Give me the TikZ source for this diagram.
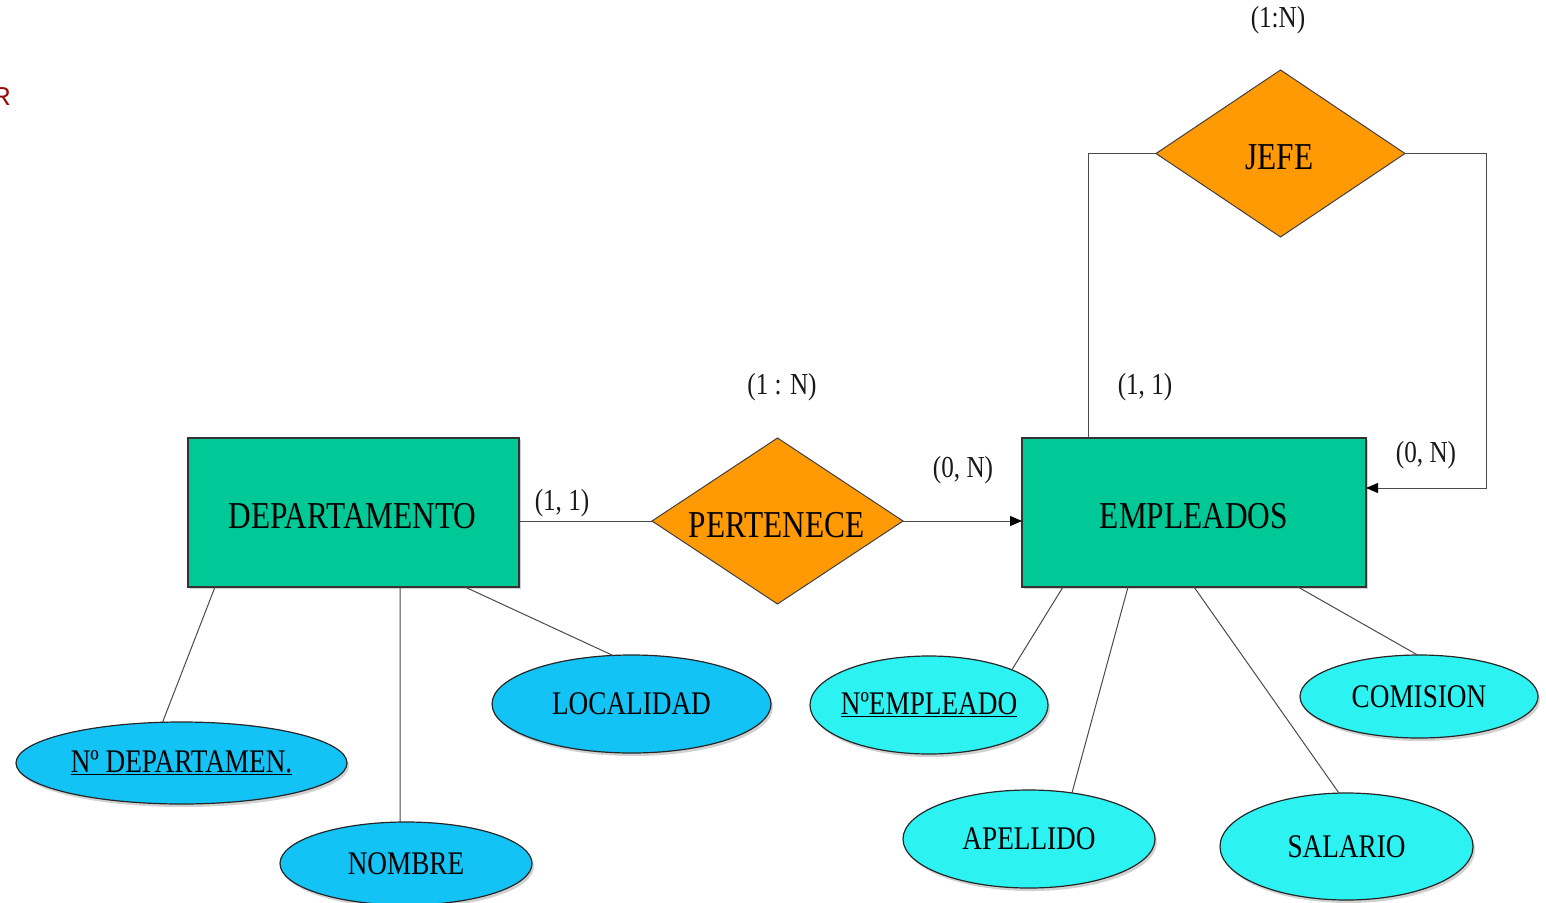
\documentclass[tikz,border=0pt]{standalone}
\usepackage{fontspec}
\setmainfont{Liberation Serif}[FakeStretch=0.825]
\newfontfamily\marksans{Liberation Sans}
\usetikzlibrary{shapes.geometric,arrows.meta,shadows}

\definecolor{entgreen}{HTML}{00C896}
\definecolor{relorange}{HTML}{FF9A05}
\definecolor{attrblue}{HTML}{14C3F5}
\definecolor{attrcyan}{HTML}{2DF2F2}
\definecolor{linkgray}{HTML}{4A4A4A}
\definecolor{markred}{HTML}{9A0A0A}

% zero-width box: the shape size comes only from the minimum sizes
\newcommand\ctr[1]{\makebox[0pt]{#1}}

\begin{document}
\begin{tikzpicture}[x=1pt,y=-1pt,
  entity/.style={rectangle, draw=black!80, line width=1.3pt, fill=entgreen,
    minimum height=149pt, inner sep=0pt, outer sep=0pt,
    drop shadow={shadow xshift=1.5pt, shadow yshift=-1.5pt, fill=black!30, opacity=.6},
    font=\fontsize{38}{40}\selectfont},
  relation/.style={diamond, draw=black!75, line width=1pt, fill=relorange,
    inner sep=0pt, outer sep=0pt, font=\fontsize{38}{40}\selectfont},
  attr/.style={ellipse, draw=black!85, line width=1.2pt, inner sep=0pt, outer sep=0pt,
    drop shadow={shadow xshift=2pt, shadow yshift=-3pt, fill=black!30, opacity=.6},
    font=\fontsize{33}{35}\selectfont},
  attrL/.style={attr, fill=attrblue},
  attrR/.style={attr, fill=attrcyan},
  card/.style={inner sep=0pt, text=black!90, font=\fontsize{30.5}{32}\selectfont},
  link/.style={draw=linkgray, line width=1pt},
  arrowlink/.style={link, -{Triangle[length=12pt,width=10pt,color=black]}}]

\useasboundingbox (0,0) rectangle (1546,902);

% stray page mark at the left edge
\node[inner sep=0pt, anchor=east, text=markred,
  font=\marksans\fontsize{26}{28}\selectfont] (pagemark) at (11,97) {R};

% entities
\node[entity, minimum width=331pt] (dept) at (353.5,512.5) {};
\node[inner sep=0pt, font=\fontsize{38}{40}\selectfont] (deptlbl) at (352.5,516) {DEPARTAMENTO};
\node[entity, minimum width=344pt] (emp) at (1194,512.5) {};
\node[inner sep=0pt, font=\fontsize{38}{40}\selectfont] (emplbl) at (1194,516) {EMPLEADOS};

% relationships
\node[relation, minimum width=251pt, minimum height=166pt] (per) at (777.5,521) {};
\node[inner sep=0pt, font=\fontsize{38}{40}\selectfont] (perlbl) at (776.5,525) {PERTENECE};
\node[relation, minimum width=249pt, minimum height=167pt] (jefe) at (1280.5,153.5) {};
\node[inner sep=0pt, font=\fontsize{38}{40}\selectfont] (jefelbl) at (1279.5,157) {JEFE};

% attributes of DEPARTAMENTO
\node[attrL, minimum width=331pt, minimum height=82pt] (nd) at (181.5,763) {\ctr{\underline{Nº DEPARTAMEN.}}};
\node[attrL, minimum width=252pt, minimum height=83pt] (nom) at (406,863.5) {\ctr{NOMBRE}};
\node[attrL, minimum width=279pt, minimum height=98pt] (loc) at (631.5,704) {\ctr{LOCALIDAD}};

% attributes of EMPLEADOS
\node[attrR, minimum width=238pt, minimum height=98pt] (nemp) at (929,705) {\ctr{\underline{NºEMPLEADO}}};
\node[attrR, minimum width=252pt, minimum height=98pt] (apel) at (1029,839) {\ctr{APELLIDO}};
\node[attrR, minimum width=253pt, minimum height=107pt] (sal) at (1346.5,846.5) {\ctr{SALARIO}};
\node[attrR, minimum width=238pt, minimum height=83pt] (com) at (1419,696.5) {\ctr{COMISION}};

% relationship connectors
\draw[link] (dept.east |- per.west) -- (per.west);
\draw[arrowlink] (per.east) -- (emp.west |- per.east);
\draw[link] (jefe.west) -| ([xshift=66pt]emp.north west);
\coordinate (loopR) at (1486,488);
\draw[arrowlink] (jefe.east) -| (loopR) -- (emp.east |- loopR);

% attribute connectors
\draw[link] ([xshift=27pt]dept.south west) -- (nd.115);
\draw[link] ([xshift=212pt]dept.south west) -- (nom.98);
\draw[link] ([xshift=277pt]dept.south west) -- (loc.111);
\draw[link] ([xshift=41pt]emp.south west) -- (nemp.23);
\draw[link] ([xshift=106pt]emp.south west) -- (apel.47);
\draw[link] ([xshift=172pt]emp.south west) -- (sal.98);
\draw[link] ([xshift=276pt]emp.south west) -- (com.92);

% cardinalities
\node[card] (cjefe) at (1278,20) {(1:N)};
\node[card] (cper) at (782,387) {(1 : N)};
\node[card] (cjefe11) at (1145,387) {(1, 1)};
\node[card] (cempN) at (963,470) {(0, N)};
\node[card] (cjefeN) at (1426,455) {(0, N)};
\node[card] (cdept) at (562,503) {(1, 1)};
\end{tikzpicture}
\end{document}
